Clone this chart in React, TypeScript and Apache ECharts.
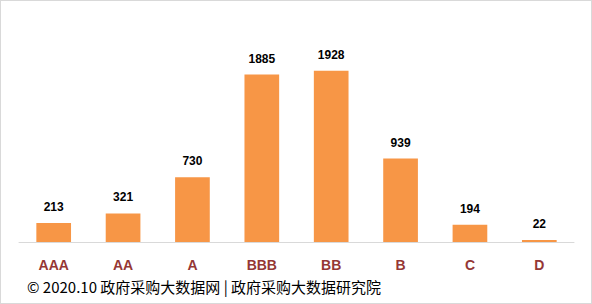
import React, { useEffect, useRef } from "react";
import * as echarts from "echarts";

const categories = ["AAA", "AA", "A", "BBB", "BB", "B", "C", "D"];
const values = [213, 321, 730, 1885, 1928, 939, 194, 22];
const footer = "© 2020.10 政府采购大数据网 | 政府采购大数据研究院";

export default function App() {
  const ref = useRef<HTMLDivElement>(null);
  useEffect(() => {
    if (!ref.current) return;
    const chart = echarts.init(ref.current, undefined, { renderer: "svg" });
    chart.setOption({
      animation: false,
      backgroundColor: "#ffffff",
      grid: { left: 18, right: 17, top: 19, bottom: 61, containLabel: false },
      xAxis: {
        type: "category",
        data: categories,
        axisLine: { lineStyle: { color: "#d9d9d9", width: 1 } },
        axisTick: { show: false },
        axisLabel: {
          color: "#953735",
          fontWeight: "bold",
          fontSize: 14,
          fontFamily: "Liberation Sans, Arial, sans-serif",
          margin: 16,
        },
      },
      yAxis: {
        type: "value",
        min: 0,
        max: 2500,
        show: false,
        splitLine: { show: false },
      },
      series: [
        {
          type: "bar",
          data: values,
          barWidth: "50%",
          itemStyle: { color: "#F79646" },
          label: {
            show: true,
            position: "top",
            distance: 10,
            color: "#000000",
            fontWeight: "bold",
            fontSize: 12,
            fontFamily: "Liberation Sans, Arial, sans-serif",
          },
        },
      ],
      graphic: [
        {
          type: "text",
          left: 26,
          top: 278,
          style: {
            text: footer,
            fontSize: 15,
            fill: "#000000",
            fontFamily: "Noto Sans CJK SC, Noto Sans, sans-serif",
          },
        },
      ],
    });
    return () => chart.dispose();
  }, []);
  return (
    <div
      style={{
        position: "fixed",
        left: 0,
        top: 0,
        width: 592,
        height: 304,
        boxSizing: "border-box",
        border: "1px solid #d9d9d9",
        background: "#fff",
      }}
    >
      <div ref={ref} style={{ width: 590, height: 302 }} />
    </div>
  );
}
